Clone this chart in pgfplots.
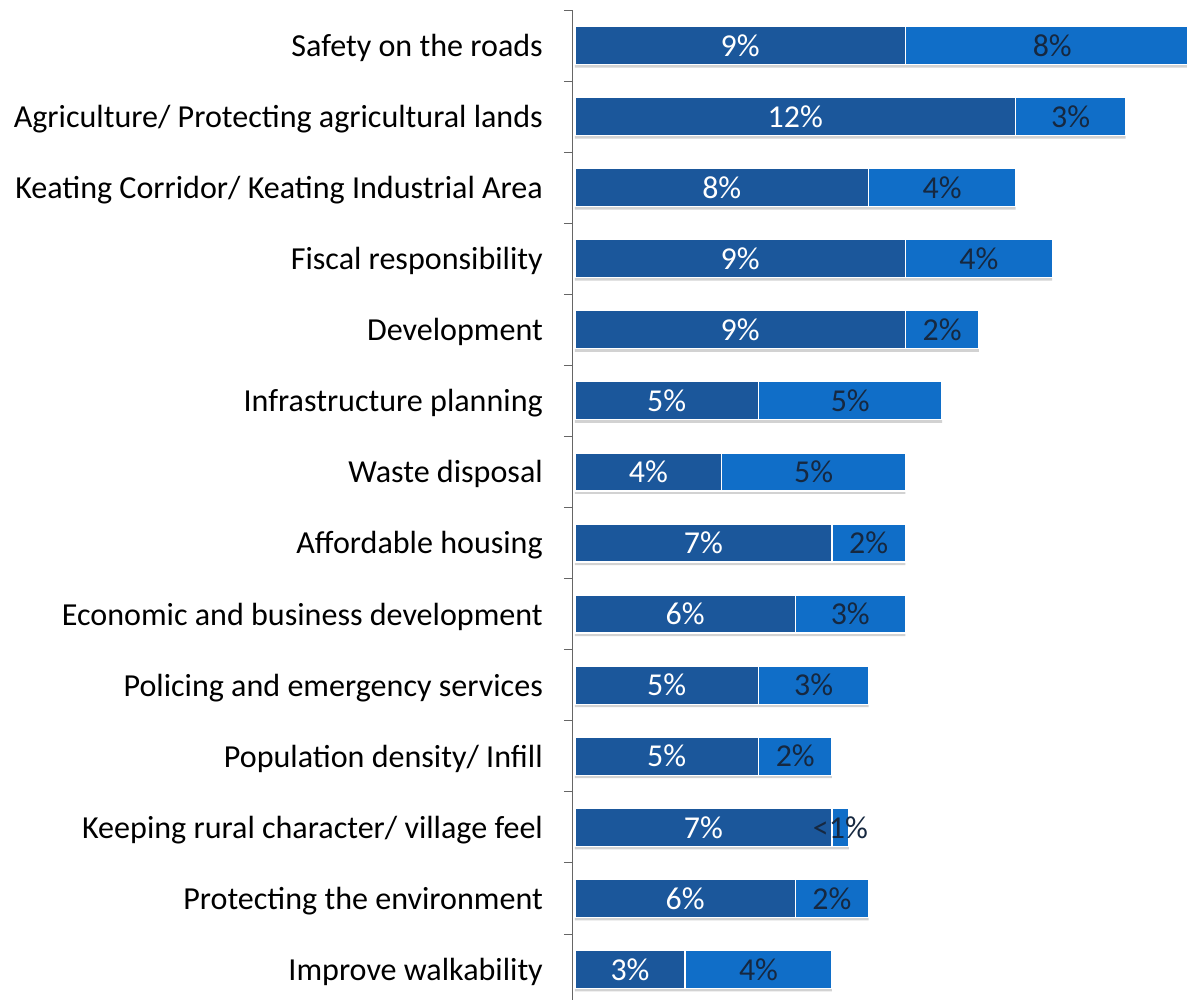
\documentclass[border=0pt]{standalone}
\usepackage{pgfplots}
\usepackage{pgfplotstable}
\usepackage{fontspec}
\setmainfont{Carlito}
\pgfplotsset{compat=1.18}
\definecolor{dark}{HTML}{1B579B}
\definecolor{light}{HTML}{106EC8}
\definecolor{lbltxt}{HTML}{162840}
\pgfplotstableread{
y a b t la lb
13 9 8 17 9 8
12 12 3 15 12 3
11 8 4 12 8 4
10 9 4 13 9 4
9 9 2 11 9 2
8 5 5 10 5 5
7 4 5 9 4 5
6 7 2 9 7 2
5 6 3 9 6 3
4 5 3 8 5 3
3 5 2 7 5 2
2 7 0.46 7.46 7 <1
1 6 2 8 6 2
0 3 4 7 3 4
}\data
\begin{document}
\begin{tikzpicture}
\begin{axis}[
  name=ax,
  scale only axis,
  width=615bp, height=990bp,
  xmin=-0.08, xmax=16.67,
  ymin=-0.43, ymax=13.5,
  hide x axis,
  axis y line*=left,
  y axis line style={gray!80!black, line width=0.8bp},
  ytick={0,...,13},
  yticklabels={Improve walkability,Protecting the environment,Keeping rural character/ village feel,Population density/ Infill,Policing and emergency services,Economic and business development,Affordable housing,Waste disposal,Infrastructure planning,Development,Fiscal responsibility,Keating Corridor/ Keating Industrial Area,Agriculture/ Protecting agricultural lands,Safety on the roads},
  major tick length=0pt,
  yticklabel style={font=\fontsize{32.2}{36}\selectfont, text=black, inner sep=0pt, xshift=-29bp, yshift=-2.5bp},
  extra y ticks={0.5,1.5,...,13.5},
  extra y tick labels={},
  extra y tick style={major tick length=8bp, tick align=outside, tick style={gray!80!black, line width=0.8bp}},
  clip=true,
]
% shadow
\addplot[xbar, bar width=38bp, bar shift=-3bp, fill=gray!35, draw=none, forget plot] table[x=t, y=y] {\data};
% total (light)
\addplot[xbar, bar width=38bp, bar shift=0pt, fill=light, draw=white, line width=1.2bp] table[x=t, y=y] {\data};
% dark segment
\addplot[xbar, bar width=38bp, bar shift=0pt, fill=dark, draw=white, line width=1.2bp] table[x=a, y=y] {\data};
% labels
\addplot[draw=none, mark=none, point meta=explicit symbolic,
  nodes near coords={\pgfplotspointmeta\%},
  nodes near coords style={anchor=center, text=white, font=\fontsize{32}{36}\selectfont}]
  table[x expr=\thisrow{a}/2, y=y, meta=la] {\data};
\addplot[draw=none, mark=none, point meta=explicit symbolic,
  nodes near coords={\pgfplotspointmeta\%},
  nodes near coords style={anchor=center, text=lbltxt, font=\fontsize{32}{36}\selectfont}]
  table[x expr=\thisrow{a}+\thisrow{b}/2, y=y, meta=lb] {\data};
\end{axis}
\pgfresetboundingbox
\path[use as bounding box] ([xshift=-572bp]ax.south west) rectangle ([yshift=10bp]ax.north east);
\end{tikzpicture}
\end{document}
